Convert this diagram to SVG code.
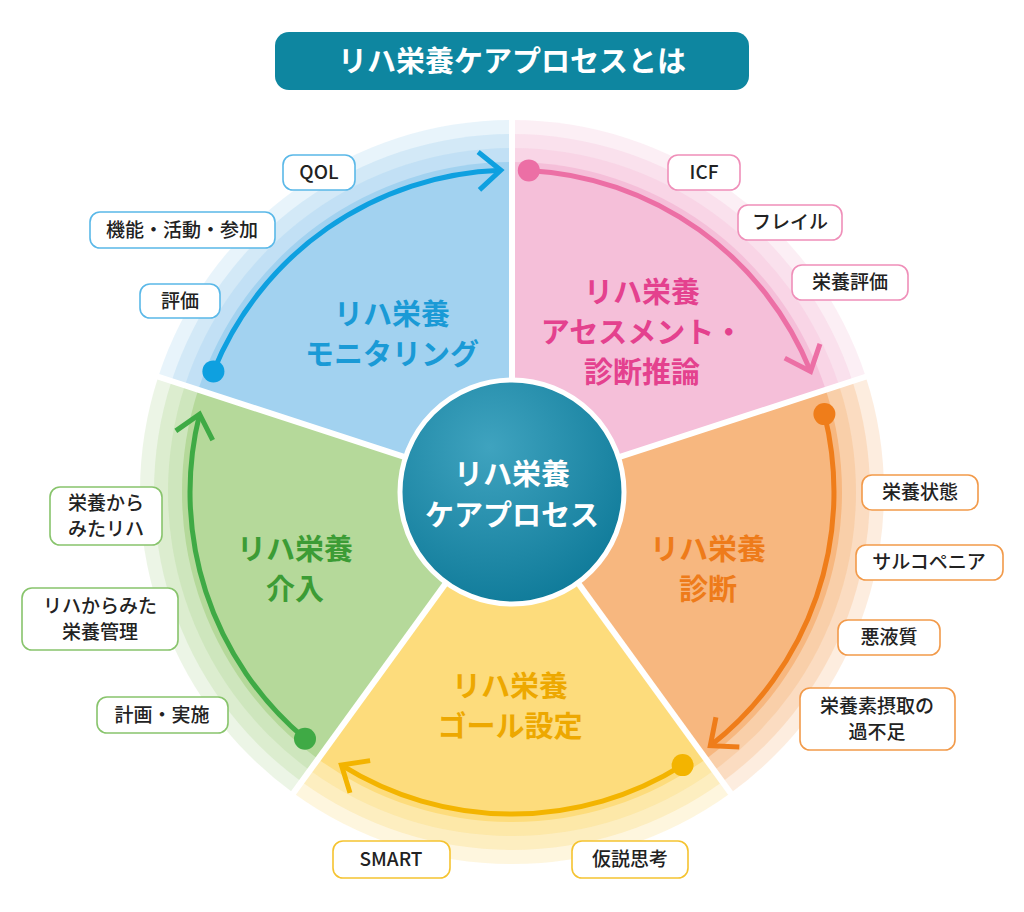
<svg xmlns="http://www.w3.org/2000/svg" width="1024" height="912" viewBox="0 0 1024 912">
<style>
text{font-family:"Noto Sans CJK JP","Noto Sans",sans-serif;font-weight:bold;text-anchor:middle}
.lbl{font-size:19px;fill:#222;font-weight:500}
.big{font-size:29px}
.pill{fill:#fff;stroke-width:1.6}
.arc{fill:none;stroke-width:5}
</style>
<defs>
<path id="sec" d="M0,0 L0,-1 A1,1 0 0 1 0.9511,-0.3090 Z"/>
<radialGradient id="cg" cx="0.4" cy="0.3" r="0.8"><stop offset="0" stop-color="#3fa3bf"/><stop offset="1" stop-color="#0b7796"/></radialGradient>
<marker id="mp" markerUnits="userSpaceOnUse" markerWidth="50" markerHeight="50" viewBox="-30 -25 35 50" orient="auto"><path d="M-22,-19 L0,0 L-22,19" fill="none" stroke="#ec6fa5" stroke-width="5"/></marker>
<marker id="mo" markerUnits="userSpaceOnUse" markerWidth="50" markerHeight="50" viewBox="-30 -25 35 50" orient="auto"><path d="M-22,-19 L0,0 L-22,19" fill="none" stroke="#ef7d1a" stroke-width="5"/></marker>
<marker id="my" markerUnits="userSpaceOnUse" markerWidth="50" markerHeight="50" viewBox="-30 -25 35 50" orient="auto"><path d="M-22,-19 L0,0 L-22,19" fill="none" stroke="#f3b400" stroke-width="5"/></marker>
<marker id="mg" markerUnits="userSpaceOnUse" markerWidth="50" markerHeight="50" viewBox="-30 -25 35 50" orient="auto"><path d="M-22,-19 L0,0 L-22,19" fill="none" stroke="#3faa45" stroke-width="5"/></marker>
<marker id="mb" markerUnits="userSpaceOnUse" markerWidth="50" markerHeight="50" viewBox="-30 -25 35 50" orient="auto"><path d="M-22,-19 L0,0 L-22,19" fill="none" stroke="#0ea0e0" stroke-width="5"/></marker>
</defs>
<rect width="1024" height="912" fill="#fff"/>
<g id="title"><rect x="275" y="32" width="474" height="58" rx="14" fill="#0e86a0"/><text x="512" y="72" font-size="29" fill="#fff">リハ栄養ケアプロセスとは</text></g>
<g id="sectors">
<g fill="#f5bfd9"><use href="#sec" transform="translate(512,492) scale(372)" opacity="0.25"/><use href="#sec" transform="translate(512,492) scale(358)" opacity="0.3"/><use href="#sec" transform="translate(512,492) scale(344)" opacity="0.35"/><use href="#sec" transform="translate(512,492) scale(330)"/></g>
<g fill="#f7b77f"><use href="#sec" transform="translate(512,492) rotate(72) scale(372)" opacity="0.25"/><use href="#sec" transform="translate(512,492) rotate(72) scale(358)" opacity="0.3"/><use href="#sec" transform="translate(512,492) rotate(72) scale(344)" opacity="0.35"/><use href="#sec" transform="translate(512,492) rotate(72) scale(330)"/></g>
<g fill="#fddc7c"><use href="#sec" transform="translate(512,492) rotate(144) scale(372)" opacity="0.25"/><use href="#sec" transform="translate(512,492) rotate(144) scale(358)" opacity="0.3"/><use href="#sec" transform="translate(512,492) rotate(144) scale(344)" opacity="0.35"/><use href="#sec" transform="translate(512,492) rotate(144) scale(330)"/></g>
<g fill="#b5d99a"><use href="#sec" transform="translate(512,492) rotate(216) scale(372)" opacity="0.25"/><use href="#sec" transform="translate(512,492) rotate(216) scale(358)" opacity="0.3"/><use href="#sec" transform="translate(512,492) rotate(216) scale(344)" opacity="0.35"/><use href="#sec" transform="translate(512,492) rotate(216) scale(330)"/></g>
<g fill="#a2d2f0"><use href="#sec" transform="translate(512,492) rotate(288) scale(372)" opacity="0.25"/><use href="#sec" transform="translate(512,492) rotate(288) scale(358)" opacity="0.3"/><use href="#sec" transform="translate(512,492) rotate(288) scale(344)" opacity="0.35"/><use href="#sec" transform="translate(512,492) rotate(288) scale(330)"/></g>
<g stroke="#fff" stroke-width="6"><line x1="512" y1="492" x2="512" y2="118"/><line x1="512" y1="492" x2="868" y2="376"/><line x1="512" y1="492" x2="732" y2="795"/><line x1="512" y1="492" x2="292" y2="795"/><line x1="512" y1="492" x2="156" y2="376"/></g>
</g>
<g id="connectors">
<path class="arc" stroke="#ec6fa5" d="M528.8,170.4 A322,322 0 0 1 810.6,371.4" marker-end="url(#mp)"/>
<path class="arc" stroke="#ef7d1a" d="M824.4,414.1 A322,322 0 0 1 710.3,745.7" marker-end="url(#mo)"/>
<path class="arc" stroke="#f3b400" d="M682.6,765.1 A322,322 0 0 1 341.4,765.1" marker-end="url(#my)"/>
<path class="arc" stroke="#3faa45" d="M305,738.7 A322,322 0 0 1 199.6,414.1" marker-end="url(#mg)"/>
<path class="arc" stroke="#0ea0e0" d="M213.4,371.4 A322,322 0 0 1 500.8,170.2" marker-end="url(#mb)"/>
<circle cx="528.8" cy="170.4" r="11" fill="#ec6fa5"/><circle cx="824.4" cy="414.1" r="11" fill="#ef7d1a"/><circle cx="682.6" cy="765.1" r="11" fill="#f3b400"/><circle cx="305" cy="738.7" r="11" fill="#3faa45"/><circle cx="213.4" cy="371.4" r="11" fill="#0ea0e0"/>
</g>
<g id="center"><circle cx="512" cy="492" r="112" fill="url(#cg)" stroke="#fff" stroke-width="5"/><text x="512" y="485" class="big" fill="#fff">リハ栄養</text><text x="512" y="526" class="big" fill="#fff">ケアプロセス</text></g>
<g id="s-pink" fill="#e4418e"><text x="642" y="303" class="big">リハ栄養</text><text x="642" y="343" class="big">アセスメント・</text><text x="642" y="383" class="big">診断推論</text></g>
<g id="s-orange" fill="#ee7b1a"><text x="708" y="560" class="big">リハ栄養</text><text x="708" y="600" class="big">診断</text></g>
<g id="s-yellow" fill="#eda800"><text x="510" y="697" class="big">リハ栄養</text><text x="510" y="737" class="big">ゴール設定</text></g>
<g id="s-green" fill="#3c9c35"><text x="295" y="560" class="big">リハ栄養</text><text x="295" y="600" class="big">介入</text></g>
<g id="s-blue" fill="#1a9ad6"><text x="392" y="325" class="big">リハ栄養</text><text x="392" y="365" class="big">モニタリング</text></g>
<g id="labels">
<g stroke="#5ab8e8"><rect class="pill" x="283" y="155" width="72" height="35" rx="10"/><rect class="pill" x="90" y="212" width="185" height="36" rx="10"/><rect class="pill" x="140" y="284" width="80" height="34" rx="10"/></g>
<text class="lbl" x="319" y="179">QOL</text><text class="lbl" x="182" y="237">機能・活動・参加</text><text class="lbl" x="180" y="308">評価</text>
<g stroke="#ef8fb9"><rect class="pill" x="668" y="155" width="72" height="35" rx="10"/><rect class="pill" x="738" y="205" width="104" height="35" rx="10"/><rect class="pill" x="792" y="265" width="116" height="35" rx="10"/></g>
<text class="lbl" x="704" y="179">ICF</text><text class="lbl" x="790" y="229">フレイル</text><text class="lbl" x="850" y="289">栄養評価</text>
<g stroke="#f29a4a"><rect class="pill" x="862" y="475" width="116" height="35" rx="10"/><rect class="pill" x="856" y="545" width="147" height="35" rx="10"/><rect class="pill" x="838" y="620" width="102" height="35" rx="10"/><rect class="pill" x="800" y="688" width="155" height="62" rx="10"/></g>
<text class="lbl" x="920" y="499">栄養状態</text><text class="lbl" x="929" y="569">サルコペニア</text><text class="lbl" x="889" y="644">悪液質</text><text class="lbl" x="877" y="713">栄養素摂取の</text><text class="lbl" x="877" y="739">過不足</text>
<g stroke="#f5c330"><rect class="pill" x="572" y="841" width="116" height="37" rx="10"/><rect class="pill" x="333" y="841" width="117" height="37" rx="10"/></g>
<text class="lbl" x="630" y="866">仮説思考</text><text class="lbl" x="391" y="866">SMART</text>
<g stroke="#88c46c"><rect class="pill" x="97" y="697" width="131" height="36" rx="10"/><rect class="pill" x="22" y="588" width="156" height="62" rx="10"/><rect class="pill" x="50" y="487" width="112" height="58" rx="10"/></g>
<text class="lbl" x="162" y="722">計画・実施</text><text class="lbl" x="100" y="613">リハからみた</text><text class="lbl" x="100" y="639">栄養管理</text><text class="lbl" x="106" y="510">栄養から</text><text class="lbl" x="106" y="536">みたリハ</text>
</g>
</svg>
